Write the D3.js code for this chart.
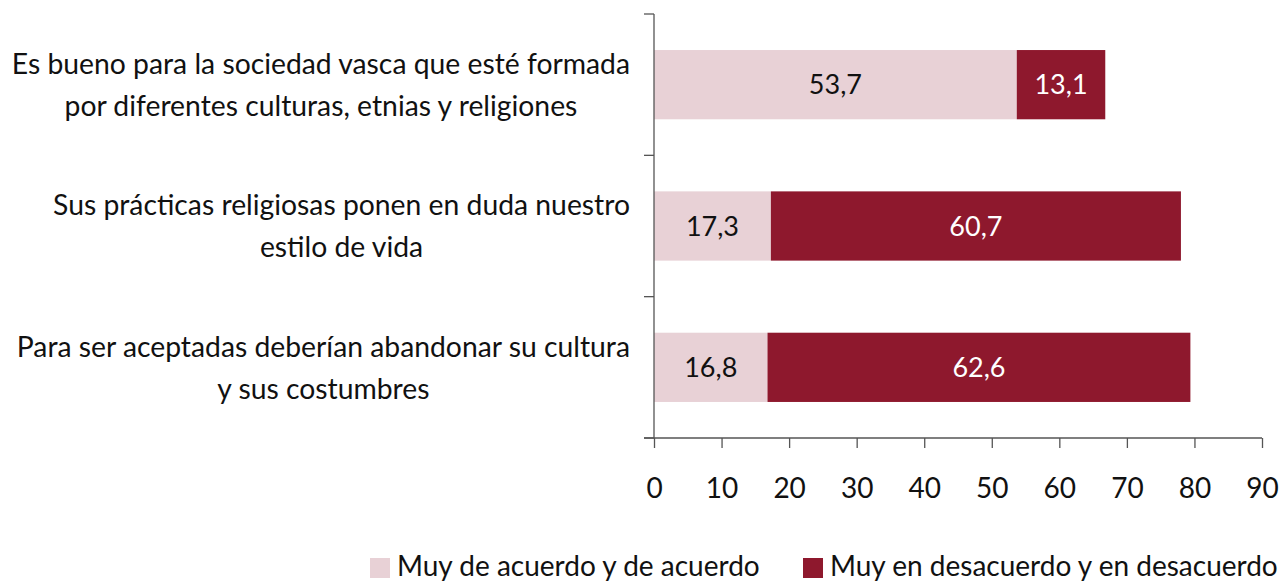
<!DOCTYPE html>
<html><head><meta charset="utf-8">
<script src="https://cdn.jsdelivr.net/npm/d3@7"></script>
<style>body{margin:0;background:#fff}svg{display:block}text{font-family:Lato,"Open Sans",sans-serif;fill:#111}</style>
</head><body>
<svg id="c" width="1283" height="582"></svg>
<script>
const categories = [
  ["Es bueno para la sociedad vasca que esté formada", "por diferentes culturas, etnias y religiones"],
  ["Sus prácticas religiosas ponen en duda nuestro", "estilo de vida"],
  ["Para ser aceptadas deberían abandonar su cultura", "y sus costumbres"]
];
const acuerdo = [53.7, 17.3, 16.8];
const desacuerdo = [13.1, 60.7, 62.6];
const seriesNames = ["Muy de acuerdo y de acuerdo", "Muy en desacuerdo y en desacuerdo"];
const xTicks = [0,10,20,30,40,50,60,70,80,90];
const colors = ["#e8d1d6", "#8e182d"];

const svg = d3.select("#c");
const x = d3.scaleLinear().domain([0,90]).range([654,1262]);
const y = d3.scaleBand().domain(d3.range(categories.length)).range([14,438]).paddingInner(0.51).paddingOuter(0.255);
const fmt = v => v.toFixed(1).replace(".", ",");

// bars
const g = svg.append("g");
categories.forEach((c,i)=>{
  const segs = [[0, acuerdo[i]], [acuerdo[i], acuerdo[i]+desacuerdo[i]]];
  segs.forEach((s,k)=>{
    g.append("rect").attr("x", x(s[0])).attr("y", y(i)).attr("width", x(s[1])-x(s[0])).attr("height", y.bandwidth()).attr("fill", colors[k]);
    g.append("text").attr("x", (x(s[0])+x(s[1]))/2).attr("y", y(i)+y.bandwidth()/2).attr("dy","0.36em")
      .attr("text-anchor","middle").style("font-size","27px").style("fill", k===0?"#111":"#fff").text(fmt(k===0?acuerdo[i]:desacuerdo[i]));
  });
});

// left axis line with ticks at band boundaries
const ax = svg.append("g").attr("stroke","#555").attr("stroke-width",1.3);
ax.append("line").attr("x1",654).attr("x2",654).attr("y1",14).attr("y2",438);
const bounds = d3.range(categories.length+1).map(i=> 14 + i*y.step());
bounds.forEach(b=> ax.append("line").attr("x1",644).attr("x2",654).attr("y1",b).attr("y2",b));

// bottom axis
const xa = svg.append("g").attr("transform","translate(0,438)")
  .call(d3.axisBottom(x).tickValues(xTicks).tickSize(10).tickSizeOuter(0).tickPadding(30).tickFormat(d=>d));
xa.select(".domain").attr("stroke","#555").attr("stroke-width",1.3).attr("d","M644,0H1262");
xa.selectAll(".tick line").attr("stroke","#555").attr("stroke-width",1.3);
xa.selectAll(".tick text").style("font-size","28px").style("font-family","Lato, sans-serif").attr("fill","#111");

// category labels
categories.forEach((c,i)=>{
  const cy = y(i)+y.bandwidth()/2;
  const t1 = svg.append("text").attr("x",630).attr("y",cy-21).attr("dy","0.36em").attr("text-anchor","end").style("font-size","28.3px").text(c[0]);
  const w = t1.node().getComputedTextLength();
  svg.append("text").attr("x",630-w/2).attr("y",cy+21).attr("dy","0.36em").attr("text-anchor","middle").style("font-size","28.3px").text(c[1]);
});

// legend
const leg = svg.append("g");
const lx = [370, 803];
seriesNames.forEach((n,k)=>{
  leg.append("rect").attr("x",lx[k]).attr("y",558).attr("width",20).attr("height",20).attr("fill",colors[k]);
  leg.append("text").attr("x",lx[k]+27).attr("y",576).style("font-size","28px").text(n);
});
</script>
</body></html>
